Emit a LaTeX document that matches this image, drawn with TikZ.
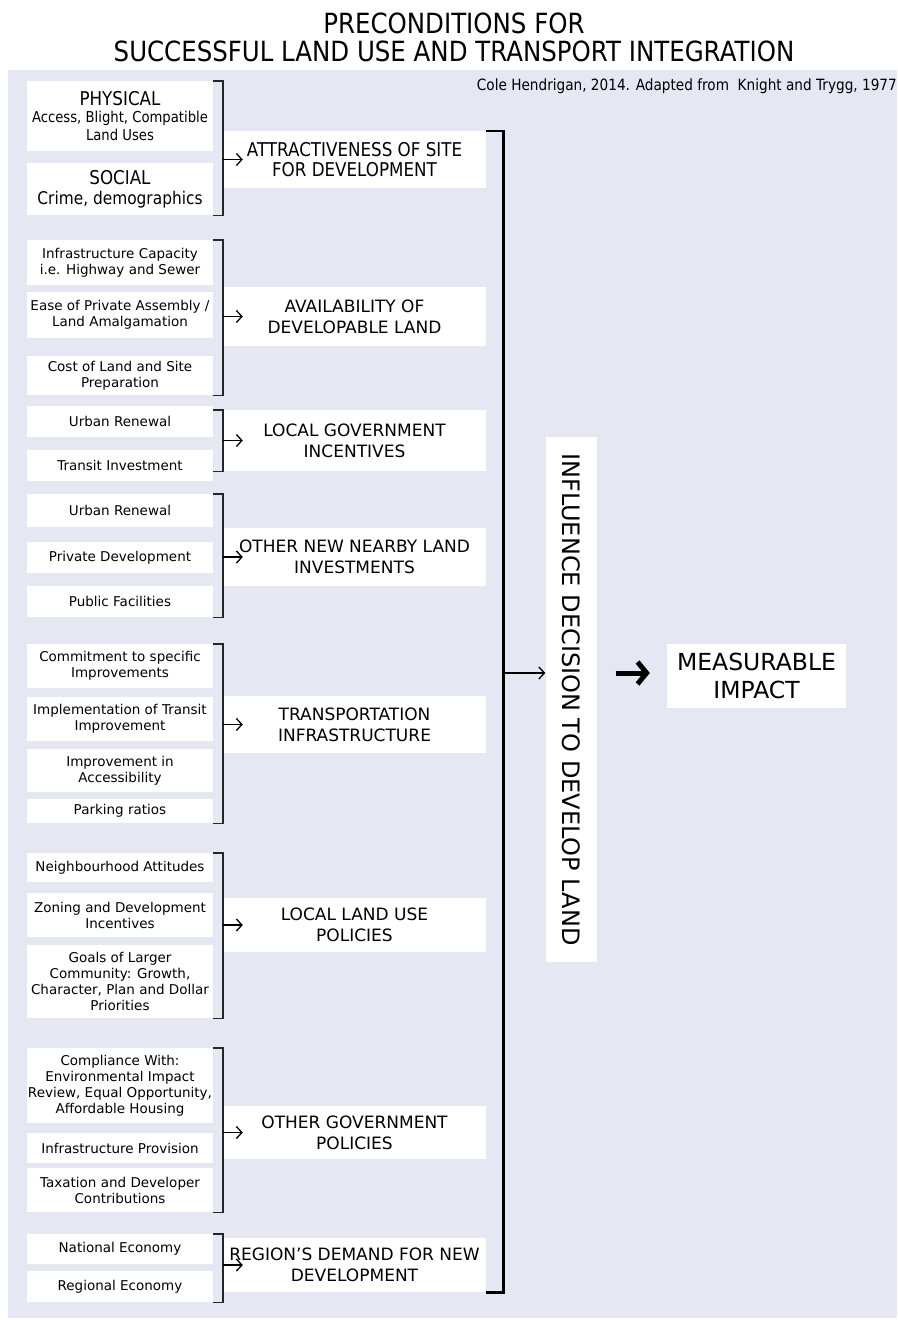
\documentclass[tikz,border=0pt]{standalone}
\usepackage{fontspec}
\setmainfont{DejaVu Sans}
\newfontfamily\narrowfont[FakeStretch=0.88]{DejaVu Sans}
\usetikzlibrary{arrows.meta}
\definecolor{panelbg}{HTML}{E5E7F2}
\definecolor{brkgray}{HTML}{262626}
\tikzstyle{leftbox} = [rectangle, fill=white, minimum width=186pt, align=center, inner sep=0pt, font=\fontsize{13.5}{16}\selectfont]
\tikzstyle{midbox} = [rectangle, fill=white, minimum width=263pt, align=center, inner sep=0pt, font=\fontsize{17}{21}\selectfont]
\tikzstyle{bracket} = [draw=brkgray, line width=1.4pt]
\tikzstyle{bigbracket} = [draw=black, line width=2.6pt]
\tikzstyle{arrow} = [line width=1.3pt, -{Straight Barb[length=5.5pt,width=12pt]}]
\tikzstyle{bigarrow} = [line width=5pt, -{Straight Barb[length=9pt,width=22pt]}]

\begin{document}
\begin{tikzpicture}[x=1pt, y=-1pt]

\fill[white] (0,0) rectangle (897,1320);
\fill[panelbg] (8,70) rectangle (897,1318);
\useasboundingbox (0,0) rectangle (897,1320);

\node (title) [align=center, inner sep=0pt, font=\narrowfont\fontsize{27.8}{28}\selectfont] at (454,37) {PRECONDITIONS FOR\\SUCCESSFUL LAND USE AND TRANSPORT INTEGRATION};
\node (credit) [anchor=base east, inner sep=0pt, font=\narrowfont\fontsize{15.5}{16}\selectfont] at (897,90) {Cole Hendrigan, 2014. Adapted from\ \ Knight and Trygg, 1977};

% attractiveness
\node (phys) [leftbox, minimum height=70pt, font=\narrowfont\fontsize{15}{17.5}\selectfont] at (120,116) {\fontsize{19}{20}\selectfont PHYSICAL\\Access, Blight, Compatible\\Land Uses};
\node (social) [leftbox, minimum height=52pt, font=\narrowfont\fontsize{17.5}{20}\selectfont] at (120,189) {\fontsize{19}{20}\selectfont SOCIAL\\Crime, demographics};
\node (mA) [midbox, minimum height=57pt, font=\narrowfont\fontsize{19}{20}\selectfont] at (354.5,159.5) {ATTRACTIVENESS OF SITE\\FOR DEVELOPMENT};

% availability
\node (b1) [leftbox, minimum height=45pt] at (120,262.5) {Infrastructure Capacity\\i.e. Highway and Sewer};
\node (b2) [leftbox, minimum height=46pt] at (120,315) {Ease of Private Assembly /\\Land Amalgamation};
\node (b3) [leftbox, minimum height=39pt] at (120,375.5) {Cost of Land and Site\\Preparation};
\node (mB) [midbox, minimum height=59pt] at (354.5,316.5) {AVAILABILITY OF\\DEVELOPABLE LAND};

% local government
\node (c1) [leftbox, minimum height=31pt] at (120,421.5) {Urban Renewal};
\node (c2) [leftbox, minimum height=31pt] at (120,465.5) {Transit Investment};
\node (mC) [midbox, minimum height=61pt] at (354.5,440.5) {LOCAL GOVERNMENT\\INCENTIVES};

% nearby investments
\node (d1) [leftbox, minimum height=33pt] at (120,510.5) {Urban Renewal};
\node (d2) [leftbox, minimum height=31pt] at (120,557.5) {Private Development};
\node (d3) [leftbox, minimum height=31pt] at (120,601.5) {Public Facilities};
\node (mD) [midbox, minimum height=58pt] at (354.5,557) {OTHER NEW NEARBY LAND\\INVESTMENTS};

% transportation
\node (e1) [leftbox, minimum height=44pt] at (120,666) {Commitment to specific\\Improvements};
\node (e2) [leftbox, minimum height=44pt] at (120,719) {Implementation of Transit\\Improvement};
\node (e3) [leftbox, minimum height=43pt] at (120,770.5) {Improvement in\\Accessibility};
\node (e4) [leftbox, minimum height=24pt] at (120,811) {Parking ratios};
\node (mE) [midbox, minimum height=57pt] at (354.5,724.5) {TRANSPORTATION\\INFRASTRUCTURE};

% land use policies
\node (f1) [leftbox, minimum height=29pt] at (120,867.5) {Neighbourhood Attitudes};
\node (f2) [leftbox, minimum height=44pt] at (120,915) {Zoning and Development\\Incentives};
\node (f3) [leftbox, minimum height=73pt] at (120,981.5) {Goals of Larger\\Community: Growth,\\Character, Plan and Dollar\\Priorities};
\node (mF) [midbox, minimum height=54pt] at (354.5,925) {LOCAL LAND USE\\POLICIES};

% government policies
\node (g1) [leftbox, minimum height=75pt] at (120,1085.5) {Compliance With:\\Environmental Impact\\Review, Equal Opportunity,\\Affordable Housing};
\node (g2) [leftbox, minimum height=30pt] at (120,1148) {Infrastructure Provision};
\node (g3) [leftbox, minimum height=44pt] at (120,1190) {Taxation and Developer\\Contributions};
\node (mG) [midbox, minimum height=53pt] at (354.5,1132.5) {OTHER GOVERNMENT\\POLICIES};

% regional demand
\node (h1) [leftbox, minimum height=30pt] at (120,1249) {National Economy};
\node (h2) [leftbox, minimum height=31pt] at (120,1286.5) {Regional Economy};
\node (mH) [midbox, minimum height=54pt] at (354.5,1265) {REGION'S DEMAND FOR NEW\\DEVELOPMENT};

\node (influence) [fill=white, rotate=-90, minimum width=525pt, minimum height=51pt, inner sep=0pt, font=\fontsize{24}{24}\selectfont] at (571,699.5) {INFLUENCE DECISION TO DEVELOP LAND};
\node (impact) [fill=white, align=center, minimum width=179pt, minimum height=64pt, inner sep=0pt, font=\fontsize{23.5}{28}\selectfont] at (756.5,676) {MEASURABLE\\IMPACT};

\draw [bracket] (phys.north east) -- (phys.north east -| mA.west) -- (social.south east -| mA.west) -- (social.south east);
\draw [bracket] (b1.north east) -- (b1.north east -| mB.west) -- (b3.south east -| mB.west) -- (b3.south east);
\draw [bracket] (c1.east |- mC.north) -- (mC.north west) -- (mC.south west) -- (c2.east |- mC.south);
\draw [bracket] (d1.north east) -- (d1.north east -| mD.west) -- (d3.south east -| mD.west) -- (d3.south east);
\draw [bracket] (e1.north east) -- (e1.north east -| mE.west) -- (e4.south east -| mE.west) -- (e4.south east);
\draw [bracket] (f1.north east) -- (f1.north east -| mF.west) -- (f3.south east -| mF.west) -- (f3.south east);
\draw [bracket] (g1.north east) -- (g1.north east -| mG.west) -- (g3.south east -| mG.west) -- (g3.south east);
\draw [bracket] (h1.north east) -- (h1.north east -| mH.west) -- (h2.south east -| mH.west) -- (h2.south east);

\draw [arrow] (mA.west) -- ++(20,0);
\draw [arrow] (mB.west) -- ++(20,0);
\draw [arrow] (mC.west) -- ++(20,0);
\draw [arrow] (mD.west) -- ++(20,0);
\draw [arrow] (mE.west) -- ++(20,0);
\draw [arrow] (mF.west) -- ++(20,0);
\draw [arrow] (mG.west) -- ++(20,0);
\draw [arrow] (mH.west) -- ++(20,0);

\draw [bigbracket] (mA.north east) -- ++(17,0) |- (mH.south east);
\coordinate (spine) at (503,673);
\draw [arrow] (spine) -- (influence.south |- spine);
\draw [bigarrow] ([xshift=19pt]influence.north |- spine) -- ([xshift=-17pt]impact.west |- spine);

\end{tikzpicture}
\end{document}
